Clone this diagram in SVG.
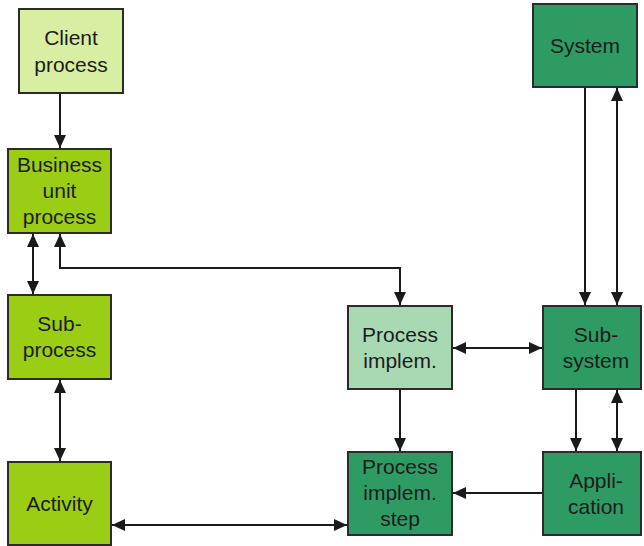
<svg xmlns="http://www.w3.org/2000/svg" width="644" height="546" viewBox="0 0 644 546">
<style>
.box{stroke:#2b2b2b;stroke-width:2}
.lt{fill:#d8eea2}
.lime{fill:#9acd14}
.pale{fill:#a9d9b3}
.dark{fill:#2f9b64}
text{font-family:"Liberation Sans",Arial,sans-serif;font-size:21px;fill:#1c1c1c;text-anchor:middle}
.c{fill:none;stroke:#1a1a1a;stroke-width:2}
</style>
<defs>
<marker id="ah" markerUnits="userSpaceOnUse" markerWidth="14" markerHeight="14" viewBox="0 0 14 14" refX="13" refY="7" orient="auto-start-reverse">
<path d="M0,1 L13,7 L0,13 Z" fill="#1a1a1a"/>
</marker>
</defs>
<rect width="644" height="546" fill="#fff"/>
<g id="connectors">
<path class="c" d="M60,93 V148" marker-end="url(#ah)"/>
<path class="c" d="M33,234 V294" marker-start="url(#ah)" marker-end="url(#ah)"/>
<path class="c" d="M60,234 V268 H400 V305" marker-start="url(#ah)" marker-end="url(#ah)"/>
<path class="c" d="M60,380 V461" marker-start="url(#ah)" marker-end="url(#ah)"/>
<path class="c" d="M112,525 H347" marker-start="url(#ah)" marker-end="url(#ah)"/>
<path class="c" d="M453,348 H542" marker-start="url(#ah)" marker-end="url(#ah)"/>
<path class="c" d="M400,390 V451" marker-end="url(#ah)"/>
<path class="c" d="M543,493 H453" marker-end="url(#ah)"/>
<path class="c" d="M585,88 V305" marker-end="url(#ah)"/>
<path class="c" d="M617,88 V305" marker-start="url(#ah)" marker-end="url(#ah)"/>
<path class="c" d="M576,390 V451" marker-end="url(#ah)"/>
<path class="c" d="M617,390 V451" marker-start="url(#ah)" marker-end="url(#ah)"/>
</g>
<g id="client-process">
<rect class="box lt" x="19" y="9" width="104" height="84"/>
<text x="71" y="45">Client</text>
<text x="71" y="72">process</text>
</g>
<g id="business-unit-process">
<rect class="box lime" x="8" y="149" width="103" height="84"/>
<text x="59.5" y="172">Business</text>
<text x="59.5" y="198">unit</text>
<text x="59.5" y="224">process</text>
</g>
<g id="sub-process">
<rect class="box lime" x="8" y="295" width="103" height="84"/>
<text x="59.5" y="331">Sub-</text>
<text x="59.5" y="357">process</text>
</g>
<g id="activity">
<rect class="box lime" x="8" y="462" width="103" height="83"/>
<text x="59.5" y="511">Activity</text>
</g>
<g id="system">
<rect class="box dark" x="533" y="4" width="104" height="83"/>
<text x="585" y="53">System</text>
</g>
<g id="process-implem">
<rect class="box pale" x="348" y="306" width="104" height="83"/>
<text x="400" y="342">Process</text>
<text x="400" y="368">implem.</text>
</g>
<g id="process-implem-step">
<rect class="box dark" x="348" y="452" width="104" height="83"/>
<text x="400" y="474">Process</text>
<text x="400" y="500">implem.</text>
<text x="400" y="526">step</text>
</g>
<g id="sub-system">
<rect class="box dark" x="543" y="306" width="98" height="83"/>
<text x="596" y="342">Sub-</text>
<text x="596" y="368">system</text>
</g>
<g id="application">
<rect class="box dark" x="543" y="452" width="98" height="83"/>
<text x="596" y="488">Appli-</text>
<text x="596" y="514">cation</text>
</g>
</svg>
